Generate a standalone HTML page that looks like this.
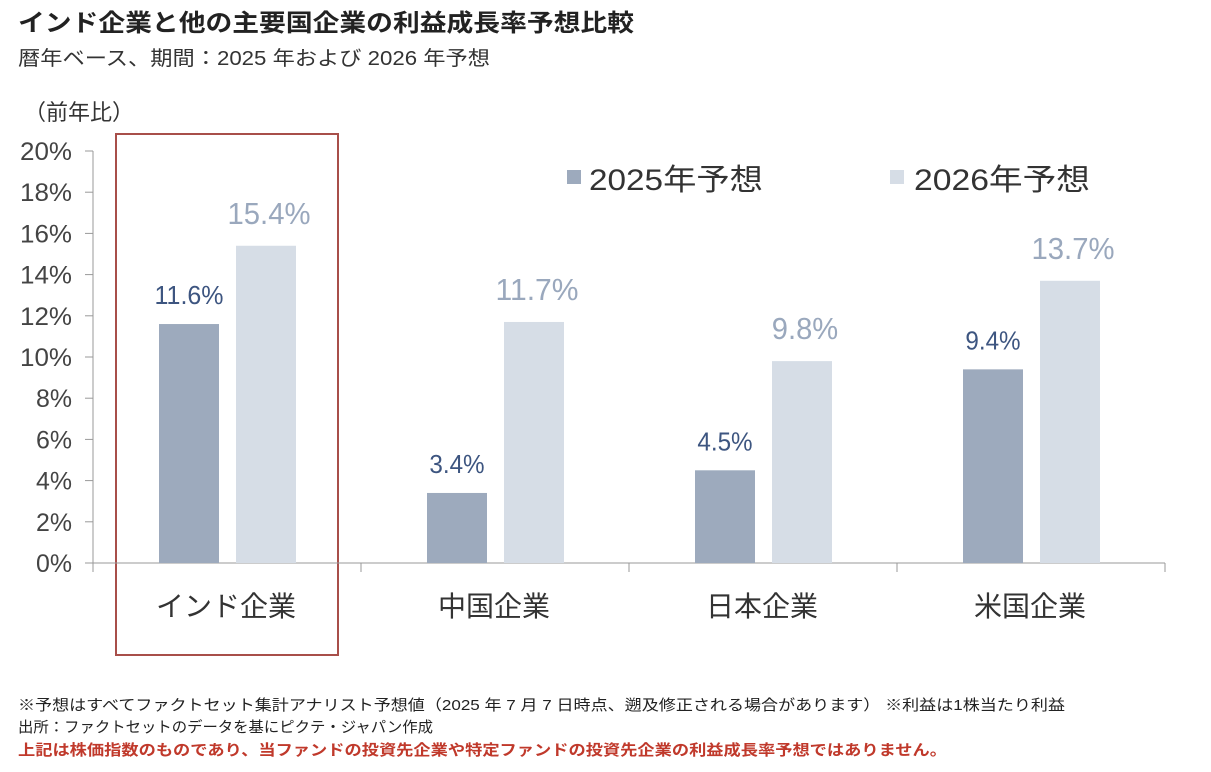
<!DOCTYPE html>
<html><head><meta charset="utf-8"><style>
body{margin:0;background:#fff;width:1211px;height:767px;overflow:hidden;font-family:"Liberation Sans","Noto Sans CJK JP",sans-serif}
svg text{font-family:"Liberation Sans","Noto Sans CJK JP",sans-serif}
</style></head><body>
<svg id="chart" width="1211" height="767" xmlns="http://www.w3.org/2000/svg">
<text x="18" y="31" font-size="24" font-weight="bold" fill="#222" textLength="616" lengthAdjust="spacingAndGlyphs">インド企業と他の主要国企業の利益成長率予想比較</text>
<text x="18" y="65" font-size="20" fill="#333" textLength="472" lengthAdjust="spacingAndGlyphs">暦年ベース、期間：2025 年および 2026 年予想</text>
<text x="24" y="120" font-size="22" fill="#333">（前年比）</text>
<rect x="116" y="134" width="222" height="521" fill="none" stroke="#a84f4a" stroke-width="2"/>
<g id="axes"></g><g id="bars"></g>
<rect x="567" y="170" width="14" height="14" fill="#9daabd"/>
<text x="589" y="190" font-size="30" fill="#333" textLength="174" lengthAdjust="spacingAndGlyphs">2025年予想</text>
<rect x="890" y="170" width="14" height="14" fill="#d6dde6"/>
<text x="914" y="190" font-size="30" fill="#333" textLength="176" lengthAdjust="spacingAndGlyphs">2026年予想</text>
<text x="18" y="710" font-size="15" fill="#222" textLength="1047" lengthAdjust="spacingAndGlyphs">※予想はすべてファクトセット集計アナリスト予想値（2025 年 7 月 7 日時点、遡及修正される場合があります） ※利益は1株当たり利益</text>
<text x="18" y="732" font-size="15" fill="#222" textLength="415" lengthAdjust="spacingAndGlyphs">出所：ファクトセットのデータを基にピクテ・ジャパン作成</text>
<text x="18" y="755" font-size="15" font-weight="bold" fill="#c0392b" textLength="929" lengthAdjust="spacingAndGlyphs">上記は株価指数のものであり、当ファンドの投資先企業や特定ファンドの投資先企業の利益成長率予想ではありません。</text>
</svg>
<script>
const categories=["インド企業","中国企業","日本企業","米国企業"];
const values2025=[11.6,3.4,4.5,9.4];
const values2026=[15.4,11.7,9.8,13.7];
const yTicks=[0,2,4,6,8,10,12,14,16,18,20];
const NS="http://www.w3.org/2000/svg";
const x0=93,catW=268,y0=563,yTop=151,yMax=20;
function y(v){return y0-(v/yMax)*(y0-yTop);}
function mk(t,a,p,txt){const e=document.createElementNS(NS,t);for(const k in a)e.setAttribute(k,a[k]);if(txt!==undefined)e.textContent=txt;p.appendChild(e);return e;}
const ax=document.getElementById('axes'),bg=document.getElementById('bars');
const yl=mk('line',{x1:x0,y1:yTop,x2:x0,y2:y0,stroke:'#999','stroke-width':1},ax);


yTicks.forEach(v=>{
 const t=mk('line',{x1:x0-8,y1:y(v),x2:x0,y2:y(v),stroke:'#999'},ax);
 
 
 const s=v+'%';
 const l=mk('text',{x:72,y:y(v)+9,'font-size':25,fill:'#444','text-anchor':'end',textLength:(s.length===3?52:36),lengthAdjust:'spacingAndGlyphs'},ax,s);
 
 
});
const xl=mk('line',{x1:x0-8,y1:y0,x2:x0+catW*4,y2:y0,stroke:'#999'},ax);


for(let i=0;i<=4;i++){
 const t=mk('line',{x1:x0+catW*i,y1:y0,x2:x0+catW*i,y2:y0+9,stroke:'#999'},ax);
 
 
}
categories.forEach((c,i)=>{
 const cx=x0+catW*i;
 const l=mk('text',{x:cx+catW/2-1,y:616,'font-size':28,fill:'#333','text-anchor':'middle'},ax,c);
 
 
 const b1=mk('rect',{x:cx+66,y:y(values2025[i]),width:60,height:y0-y(values2025[i]),fill:'#9daabd'},bg);
 
 
 const b2=mk('rect',{x:cx+143,y:y(values2026[i]),width:60,height:y0-y(values2026[i]),fill:'#d6dde6'},bg);
 
 
 const s1=values2025[i].toFixed(1)+'%',s2=values2026[i].toFixed(1)+'%';
 const v1=mk('text',{x:cx+96,y:y(values2025[i])-20,'font-size':26,fill:'#3d5580','text-anchor':'middle',textLength:s1.length*13.8,lengthAdjust:'spacingAndGlyphs'},bg,s1);
 
 
 const v2=mk('text',{x:cx+176,y:y(values2026[i])-22,'font-size':31,fill:'#9aa8bd','text-anchor':'middle',textLength:s2.length*16.6,lengthAdjust:'spacingAndGlyphs'},bg,s2);
 
 
});
</script>
</body></html>
